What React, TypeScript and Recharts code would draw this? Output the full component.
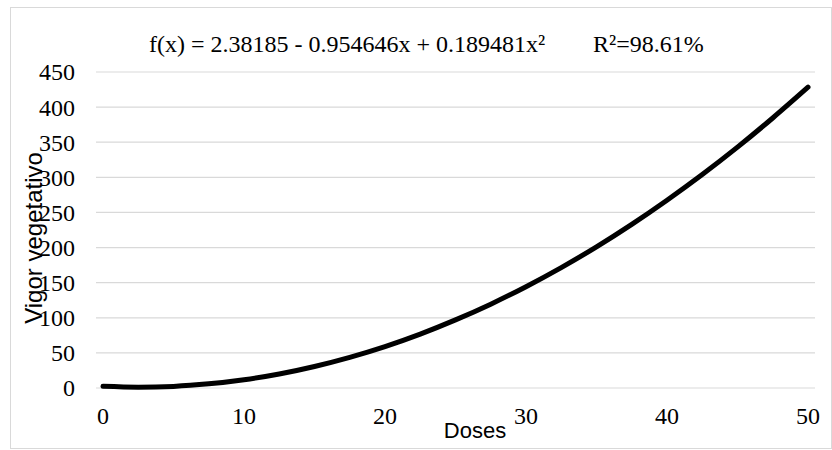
import { CartesianGrid, Line, LineChart, XAxis, YAxis } from "recharts";

// Doses (x) and vigor vegetativo (y)
const doses = [0, 2.5, 5, 7.5, 10, 12.5, 15, 17.5, 20, 22.5, 25, 27.5, 30, 32.5, 35, 37.5, 40, 42.5, 45, 47.5, 50];
const vigor = [2.4, 1.2, 2.3, 5.9, 11.8, 20, 30.7, 43.7, 59, 76.8, 97, 119.4, 144.3, 171.5, 201, 233, 267.4, 304, 343, 384.5, 428.3];

const xTicks = [0, 10, 20, 30, 40, 50];
const yTicks = [0, 50, 100, 150, 200, 250, 300, 350, 400, 450];

const data = doses.map((d, i) => ({ dose: d, vigor: vigor[i] }));

const SERIF = "Liberation Serif";
const SANS = "Liberation Sans";

// force the serif face on every recharts text
const css = `.chart-box svg text { font-family: "Liberation Serif", "Times New Roman", serif !important; }`;

const XTick = ({ x, y, payload }: any) => (
	<text x={x} y={y} dy="0.71em" textAnchor="middle" fontFamily={SERIF} fontSize={24} fill="#000">
		{payload.value}
	</text>
);

const YTick = ({ x, y, payload }: any) => (
	<text x={x} y={y} dy="0.35em" textAnchor="end" fontFamily={SERIF} fontSize={24} fill="#000">
		{payload.value}
	</text>
);

export default function App() {
	return (
		<div style={{ position: "absolute", left: 0, top: 0, width: 832, height: 450, background: "#fff" }}>
			<style>{css}</style>
			<div className="chart-box" style={{ fontFamily: SERIF }}>
				<LineChart
					width={832}
					height={450}
					data={data}
					margin={{ top: 72, right: 17, left: 0, bottom: 0 }}
					style={{ fontFamily: SERIF }}
				>
					<CartesianGrid vertical={false} stroke="#d9d9d9" strokeWidth={1.2} />
					<XAxis
						dataKey="dose"
						type="number"
						domain={[0, 50]}
						ticks={xTicks}
						padding={{ left: 7, right: 7 }}
						axisLine={false}
						tickLine={false}
						tickSize={0}
						tickMargin={19}
						height={62}
						tick={<XTick />}
					/>
					<YAxis
						type="number"
						domain={[0, 450]}
						ticks={yTicks}
						axisLine={false}
						tickLine={false}
						tickSize={0}
						tickMargin={21}
						width={96}
						tick={<YTick />}
					/>
					<Line
						type="monotone"
						dataKey="vigor"
						stroke="#000"
						strokeWidth={5}
						strokeLinecap="round"
						dot={false}
						isAnimationActive={false}
					/>
				</LineChart>
			</div>
			<svg
				width={832}
				height={450}
				style={{ position: "absolute", left: 0, top: 0, pointerEvents: "none" }}
			>
				<rect x={10.5} y={7.5} width={821} height={441} fill="none" stroke="#d9d9d9" strokeWidth={1} />
				<text x={149} y={52} fontSize={24} fontFamily={SERIF} fill="#000">
					f(x) = 2.38185 - 0.954646x + 0.189481x²
				</text>
				<text x={593} y={52} fontSize={24} fontFamily={SERIF} fill="#000">
					R²=98.61%
				</text>
				<text x={475} y={438} fontSize={22} fontFamily={SANS} fill="#000" textAnchor="middle">
					Doses
				</text>
				<text
					x={42}
					y={238}
					fontSize={24}
					fontFamily={SANS}
					fill="#000"
					textAnchor="middle"
					transform="rotate(-90 42 238)"
				>
					Vigor vegetativo
				</text>
			</svg>
		</div>
	);
}
